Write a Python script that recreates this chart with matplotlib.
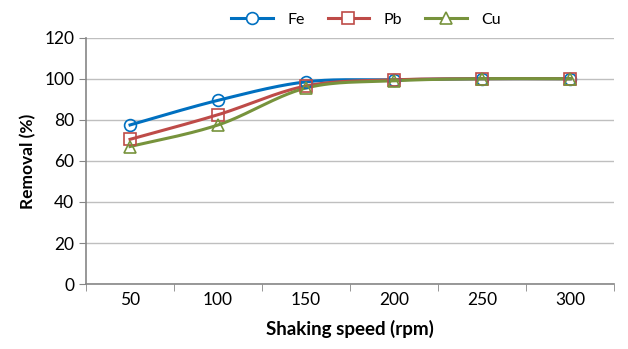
import numpy as np
import matplotlib.pyplot as plt

speeds = ["50", "100", "150", "200", "250", "300"]
fe = [77.5, 89.5, 98.5, 99.5, 100, 100]
pb = [70.5, 82.5, 96.5, 99.5, 100, 100]
cu = [67, 77.5, 95.5, 99, 100, 100]


def smooth(x, y, n=30, t=0.5):
    # excel-like smoothed line: cardinal spline through the points
    x = np.asarray(x, float)
    y = np.asarray(y, float)
    px = np.concatenate([[x[0]], x, [x[-1]]])
    py = np.concatenate([[y[0]], y, [y[-1]]])
    xs, ys = [], []
    s = np.linspace(0, 1, n)
    for i in range(1, len(px) - 2):
        m0x = t * (px[i + 1] - px[i - 1]); m1x = t * (px[i + 2] - px[i])
        m0y = t * (py[i + 1] - py[i - 1]); m1y = t * (py[i + 2] - py[i])
        h00 = 2 * s**3 - 3 * s**2 + 1
        h10 = s**3 - 2 * s**2 + s
        h01 = -2 * s**3 + 3 * s**2
        h11 = s**3 - s**2
        xs.append(h00 * px[i] + h10 * m0x + h01 * px[i + 1] + h11 * m1x)
        ys.append(h00 * py[i] + h10 * m0y + h01 * py[i + 1] + h11 * m1y)
    return np.concatenate(xs), np.concatenate(ys)


plt.rcParams['font.family'] = ['Lato', 'DejaVu Sans']
fig, ax = plt.subplots(figsize=(6.28, 3.49), dpi=100)
fig.subplots_adjust(left=0.137, right=0.978, top=0.892, bottom=0.186)

x = np.arange(len(speeds))
series = [("Fe", fe, "#0070C0", "o"), ("Pb", pb, "#BE4B48", "s"), ("Cu", cu, "#77933C", "^")]
for name, vals, col, mk in series:
    sx, sy = smooth(x, vals)
    ax.plot(sx, sy, color=col, lw=2.2, zorder=3)
    ax.plot(x, vals, ls="none", marker=mk, ms=8.5, mfc="none", mec=col, mew=1.2, zorder=4)
    ax.plot([], [], color=col, lw=2.2, marker=mk, ms=8.5, mfc="white", mec=col, mew=1.2, label=name)

ax.set_xlim(-0.5, len(speeds) - 0.5)
ax.set_ylim(0, 120)
ax.set_yticks(range(0, 121, 20))
ax.set_xticks(x)
ax.set_xticklabels(speeds)
ax.set_xticks(np.arange(-0.5, len(speeds), 1), minor=True)
ax.tick_params(axis="x", which="major", length=0, labelsize=12.5, pad=6)
ax.tick_params(axis="x", which="minor", length=5, color="#868686")
ax.tick_params(axis="y", length=5, color="#868686", labelsize=12.5)
ax.grid(axis="y", color="#BFBFBF", lw=1)
ax.set_axisbelow(True)
for s in ["top", "right"]:
    ax.spines[s].set_visible(False)
for s in ["left", "bottom"]:
    ax.spines[s].set_color("#868686")
    ax.spines[s].set_linewidth(1.2)

ax.set_xlabel("Shaking speed (rpm)", fontsize=13.5, fontweight="bold", labelpad=8)
ax.set_ylabel("Removal (%)", fontsize=12.5, fontweight="bold", labelpad=6)
ax.legend(loc="lower center", bbox_to_anchor=(0.53, 1.0), ncol=3, frameon=False,
          fontsize=11.5, handlelength=2.6, handletextpad=0.9, columnspacing=1.45,
          borderaxespad=0.3)

fig.savefig("out.png", dpi=100)
